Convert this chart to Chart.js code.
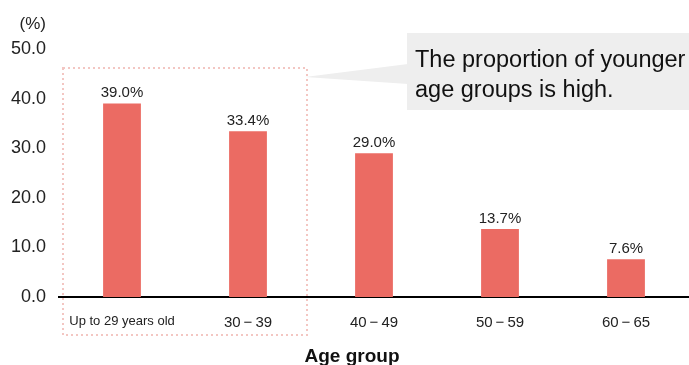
<!DOCTYPE html>
<html>
<head>
<meta charset="utf-8">
<script src="https://cdn.jsdelivr.net/npm/chart.js"></script>
<style>
  html, body { margin: 0; padding: 0; background: #fff; }
  #wrap { width: 689px; height: 365px; position: relative; }
</style>
</head>
<body>
<div id="wrap"><canvas id="grafico"></canvas></div>
<script>
// --- datos ---
const categorias = ["Up to 29 years old", "30\u2009\u2212\u200939", "40\u2009\u2212\u200949", "50\u2009\u2212\u200959", "60\u2009\u2212\u200965"];
const valores = [39.0, 33.4, 29.0, 13.7, 7.6];
const ticksY = [0, 10, 20, 30, 40, 50];
const nota = ["The proportion of younger", "age groups is high."];
const tituloX = "Age group";
const unidad = "(%)";

const FUENTE = "'Liberation Sans', Arial, sans-serif";

// etiquetas de valor, recuadro punteado, globo y titulo
const extras = {
  id: "extras",
  afterDatasetsDraw(chart) {
    const ctx = chart.ctx;
    const x = chart.scales.x;
    const meta = chart.getDatasetMeta(0);

    ctx.save();
    ctx.fillStyle = "#222";
    ctx.font = "15px " + FUENTE;
    ctx.textAlign = "center";
    ctx.textBaseline = "bottom";
    meta.data.forEach((bar, i) => {
      ctx.fillText(valores[i].toFixed(1) + "%", bar.x, bar.y - 3);
    });

    // unidad del eje
    ctx.font = "17px " + FUENTE;
    ctx.textAlign = "right";
    ctx.textBaseline = "middle";
    ctx.fillText(unidad, 46, 24);

    // titulo eje x
    ctx.fillStyle = "#111";
    ctx.font = "bold 19px " + FUENTE;
    ctx.textAlign = "center";
    ctx.textBaseline = "alphabetic";
    ctx.fillText(tituloX, 352, 362);

    // recuadro punteado
    const izq = chart.chartArea.left + 4;
    const der = (x.getPixelForValue(1) + x.getPixelForValue(2)) / 2 - 4;
    ctx.strokeStyle = "#f3c6c2";
    ctx.lineWidth = 2;
    ctx.setLineDash([2, 3]);
    ctx.strokeRect(izq, 68, der - izq, 267);
    ctx.setLineDash([]);

    // globo
    ctx.fillStyle = "#eeeeee";
    ctx.beginPath();
    ctx.moveTo(der - 2, 77);
    ctx.lineTo(408, 64);
    ctx.lineTo(408, 84);
    ctx.closePath();
    ctx.fill();
    ctx.fillRect(407, 33, 282, 77);
    ctx.fillStyle = "#111";
    ctx.font = "23.5px " + FUENTE;
    ctx.textAlign = "left";
    ctx.textBaseline = "alphabetic";
    ctx.fillText(nota[0], 415, 67);
    ctx.fillText(nota[1], 415, 97);
    ctx.restore();
  }
};

new Chart(document.getElementById("grafico"), {
  type: "bar",
  data: {
    labels: categorias,
    datasets: [{
      data: valores,
      backgroundColor: "#eb6b63",
      barPercentage: 0.6,
      categoryPercentage: 0.5
    }]
  },
  options: {
    responsive: true,
    maintainAspectRatio: false,
    animation: false,
    layout: { padding: { top: 49, right: 0, bottom: 0, left: 0 } },
    plugins: { legend: { display: false }, tooltip: { enabled: false } },
    scales: {
      x: {
        afterFit: (s) => { s.height = 68; },
        grid: { display: false, drawTicks: false },
        border: { color: "#000", width: 2 },
        ticks: {
          color: "#222",
          font: (c) => ({ size: c.index === 0 ? 13 : 15, family: FUENTE }),
          padding: 17,
          maxRotation: 0,
          autoSkip: false
        }
      },
      y: {
        min: 0, max: 50,
        afterBuildTicks: (s) => { s.ticks = ticksY.map(v => ({ value: v })); },
        afterFit: (s) => { s.width = 59; },
        grid: { display: false, drawTicks: false },
        border: { display: false },
        ticks: { color: "#222", font: { size: 18, family: FUENTE }, padding: 13, callback: (v) => v.toFixed(1) }
      }
    }
  },
  plugins: [extras]
});
</script>
</body>
</html>
